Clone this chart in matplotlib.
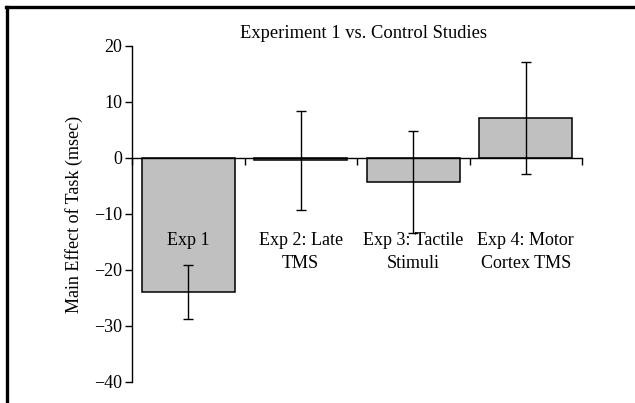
import numpy as np
import matplotlib
matplotlib.use('Agg')
from matplotlib import pyplot as plt
from matplotlib.lines import Line2D

# 데이터
labels = ['Exp 1', 'Exp 2: Late\nTMS', 'Exp 3: Tactile\nStimuli', 'Exp 4: Motor\nCortex TMS']
means = [-23.9, -0.4, -4.35, 7.1]
errs = [4.8, 8.8, 9.1, 10.0]
yticks = [-40, -30, -20, -10, 0, 10, 20]

plt.rcParams['font.family'] = ['Liberation Serif', 'DejaVu Serif']
plt.rcParams['axes.unicode_minus'] = True

fig = plt.figure(figsize=(6.35, 4.03), dpi=100)
ax = fig.add_axes([132/635, 1-382/403, 450/635, 336/403])

x = np.arange(len(labels))
ax.bar(x, means, width=0.83, color='#c0c0c0', edgecolor='black', linewidth=1.1, zorder=2)
ax.errorbar(x, means, yerr=errs, fmt='none', ecolor='black', elinewidth=1.0,
            capsize=3.8, capthick=1.0, zorder=4)

ax.set_xlim(-0.5, 3.5)
ax.set_ylim(-40, 20)
ax.set_yticks(yticks)
ax.set_xticks(np.arange(-0.5, 4, 1.0))
ax.set_xticklabels([])
ax.tick_params(axis='y', direction='out', length=5, width=1, labelsize=13, pad=2)
ax.tick_params(axis='x', direction='out', length=5, width=1)

ax.spines['top'].set_visible(False)
ax.spines['right'].set_visible(False)
ax.spines['bottom'].set_position(('data', 0))
ax.spines['left'].set_linewidth(1)
ax.spines['bottom'].set_linewidth(1)

# 카테고리 이름은 막대 위에, 오차 막대 아래에
for i, lab in enumerate(labels):
    ax.text(x[i], -13.2, lab, ha='center', va='top', fontsize=13, linespacing=1.45, zorder=3)

ax.set_ylabel('Main Effect of Task (msec)', fontsize=13, labelpad=8)
fig.text(363/635, 1-33/403, 'Experiment 1 vs. Control Studies', ha='center', va='center', fontsize=13.3)

# 바깥 테두리
fig.add_artist(Line2D([7/635, 7/635], [0, 1-7/403], transform=fig.transFigure, color='black', linewidth=2.4))
fig.add_artist(Line2D([6/635, 1], [1-7/403, 1-7/403], transform=fig.transFigure, color='black', linewidth=2.4))

fig.savefig('out.png', dpi=100)
